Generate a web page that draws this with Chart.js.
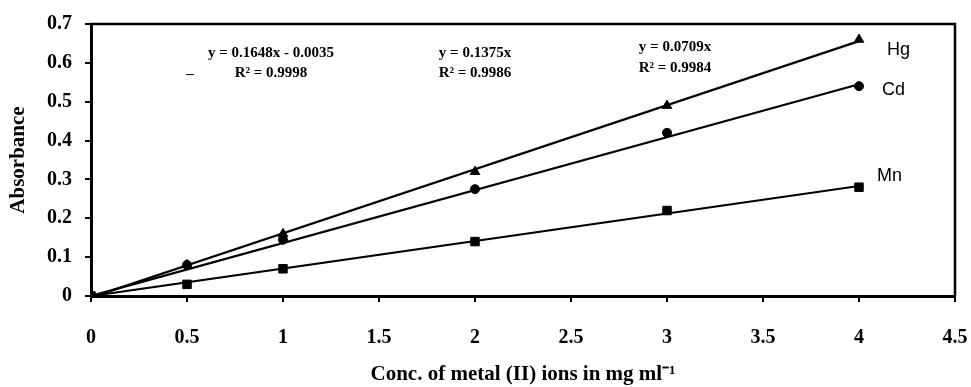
<!DOCTYPE html>
<html>
<head>
<meta charset="utf-8">
<script src="https://cdn.jsdelivr.net/npm/chart.js@4.4.1/dist/chart.umd.min.js"></script>
<style>
html,body{margin:0;padding:0;background:#fff;}
#wrap{width:971px;height:387px;position:relative;}
</style>
</head>
<body>
<div id="wrap"><canvas id="c" width="971" height="387"></canvas></div>
<script>
// ---- data ----
const concentrations = [0, 0.5, 1, 2, 3, 4];
const hgValues = [0, 0.08, 0.16, 0.32, 0.49, 0.66];
const cdValues = [0, 0.08, 0.145, 0.275, 0.42, 0.54];
const mnValues = [0, 0.03, 0.07, 0.14, 0.22, 0.28];
const trendX = [0, 4];
const hgTrend = [-0.0035, 0.656];
const cdTrend = [0, 0.545];
const mnTrend = [0, 0.283];
const seriesNames = ['Hg', 'Cd', 'Mn'];
const xTickLabels = ['0', '0.5', '1', '1.5', '2', '2.5', '3', '3.5', '4', '4.5'];
const yTickLabels = ['0', '0.1', '0.2', '0.3', '0.4', '0.5', '0.6', '0.7'];
const equationLines = [
  ['y = 0.1648x - 0.0035', 'R² = 0.9998'],
  ['y = 0.1375x', 'R² = 0.9986'],
  ['y = 0.0709x', 'R² = 0.9984']
];

function pts(xs, ys){ return xs.map((x,i)=>({x:x, y:ys[i]})); }

const serif = "'Liberation Serif','Times New Roman',serif";
const sans = "'Liberation Sans',Arial,sans-serif";

const decor = {
  id: 'decor',
  beforeDatasetsDraw(chart){
    const {ctx, chartArea:a} = chart;
    ctx.save();
    ctx.strokeStyle = '#000';
    ctx.lineWidth = 2.5;
    ctx.beginPath();
    ctx.moveTo(a.left, a.top);
    ctx.lineTo(a.right, a.top);
    ctx.lineTo(a.right, a.bottom);
    ctx.stroke();
    ctx.restore();
  },
  afterDatasetsDraw(chart){
    const {ctx} = chart;
    ctx.save();
    ctx.fillStyle = '#000';
    ctx.textAlign = 'center';
    ctx.textBaseline = 'middle';
    ctx.font = "bold 15px " + serif;
    const eqPos = [[271, 53, 73], [475, 53, 73], [675, 47, 68]];
    equationLines.forEach((lines, i) => {
      ctx.fillText(lines[0], eqPos[i][0], eqPos[i][1]);
      ctx.fillText(lines[1], eqPos[i][0], eqPos[i][2]);
    });
    ctx.fillText('–', 190, 74);
    ctx.font = "18px " + sans;
    ctx.textAlign = 'left';
    const labPos = [[887, 50], [882, 90], [877, 176]];
    seriesNames.forEach((n, i) => ctx.fillText(n, labPos[i][0], labPos[i][1]));
    ctx.restore();
  }
};

const trendStyle = {borderColor:'#000', borderWidth:2.2, pointRadius:0, showLine:true, fill:false, order:2};
const markStyle = {backgroundColor:'#000', borderColor:'#000', borderWidth:1, showLine:false, order:1};

new Chart(document.getElementById('c'), {
  type: 'scatter',
  data: {
    datasets: [
      Object.assign({label: seriesNames[0] + ' fit', data: pts(trendX, hgTrend)}, trendStyle),
      Object.assign({label: seriesNames[1] + ' fit', data: pts(trendX, cdTrend)}, trendStyle),
      Object.assign({label: seriesNames[2] + ' fit', data: pts(trendX, mnTrend)}, trendStyle),
      Object.assign({label: seriesNames[0], data: pts(concentrations, hgValues), pointStyle:'triangle', pointRadius:5.5}, markStyle),
      Object.assign({label: seriesNames[1], data: pts(concentrations, cdValues), pointStyle:'circle', pointRadius:4.5}, markStyle),
      Object.assign({label: seriesNames[2], data: pts(concentrations, mnValues), pointStyle:'rect', pointRadius:6}, markStyle)
    ]
  },
  options: {
    responsive: false,
    animation: false,
    events: [],
    layout: {padding: {left: 0, top: 24, right: 16, bottom: 0}},
    plugins: {legend: {display: false}, tooltip: {enabled: false}},
    scales: {
      x: {
        type: 'linear', min: 0, max: 4.5,
        afterFit(s){ s.height = 91; s.paddingLeft = 0; s.paddingRight = 0; },
        border: {display: true, color: '#000', width: 3},
        grid: {drawOnChartArea: false, drawTicks: true, tickLength: 6, color: '#000', lineWidth: 2},
        ticks: {
          stepSize: 0.5, padding: 24, color: '#000',
          font: {family: serif, size: 20, weight: 'bold'},
          callback: (v) => { const i = Math.round(v / 0.5); return xTickLabels[i]; }
        },
        title: {
          display: true, text: 'Conc. of metal (II) ions in mg ml⁻¹', color: '#000',
          font: {family: serif, size: 21, weight: 'bold'}, padding: {top: 0, bottom: 0}
        }
      },
      y: {
        type: 'linear', min: 0, max: 0.7,
        afterFit(s){ s.width = 91; s.paddingTop = 0; s.paddingBottom = 0; },
        border: {display: true, color: '#000', width: 3},
        grid: {drawOnChartArea: false, drawTicks: true, tickLength: 6, color: '#000', lineWidth: 2},
        ticks: {
          stepSize: 0.1, padding: 13, color: '#000',
          font: {family: serif, size: 20, weight: 'bold'},
          callback: (v) => { const i = Math.round(v / 0.1); return yTickLabels[i]; }
        },
        title: {
          display: true, text: 'Absorbance', color: '#000',
          font: {family: serif, size: 21, weight: 'bold'}, padding: {top: 6, bottom: 0}
        }
      }
    }
  },
  plugins: [decor]
});
</script>
</body>
</html>
